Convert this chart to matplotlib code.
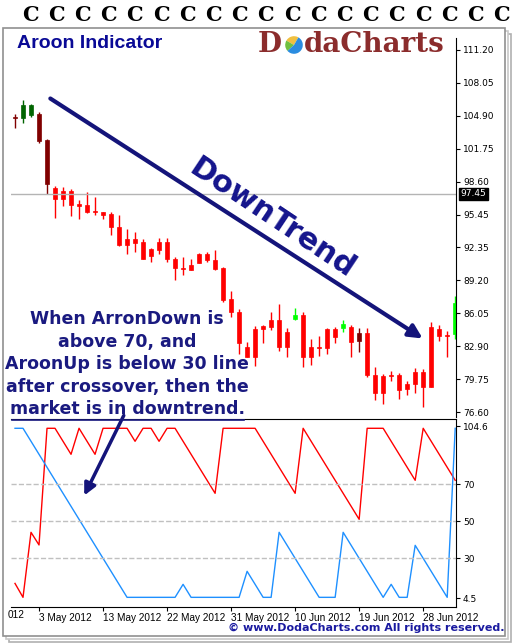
import matplotlib.pyplot as plt
from matplotlib.patches import Rectangle, FancyArrowPatch

# OHLC, one row per session
opens  = [104.71, 104.71, 104.96, 105.06, 102.58, 98.03, 97.71, 97.71, 96.47, 96.38,
          95.77, 95.68, 95.52, 94.28, 93.13, 93.13, 92.85, 92.18, 92.85, 92.85,
          91.19, 90.33, 90.65, 91.70, 91.70, 91.10, 90.36, 87.41, 86.14, 82.80,
          84.55, 84.83, 85.40, 85.40, 84.26, 85.50, 85.88, 82.80, 82.80, 84.55,
          84.55, 84.67, 84.77, 84.13, 84.13, 80.19, 80.06, 80.16, 80.16, 79.30,
          80.41, 80.41, 84.70, 84.55, 84.00, 84.03]
highs  = [105.02, 106.39, 106.01, 105.22, 102.64, 98.19, 98.06, 97.93, 96.85, 97.62,
          97.11, 95.74, 95.68, 95.42, 94.09, 93.77, 93.10, 92.24, 93.23, 93.23,
          91.38, 91.38, 91.19, 91.76, 91.92, 92.08, 90.43, 88.17, 86.42, 83.31,
          84.83, 84.90, 86.14, 86.93, 84.61, 86.52, 86.20, 83.59, 83.88, 84.64,
          84.70, 85.40, 84.93, 84.61, 84.61, 80.89, 80.25, 80.57, 80.32, 79.55,
          80.79, 80.70, 85.18, 84.93, 84.32, 87.68]
lows   = [103.75, 104.23, 104.80, 102.26, 97.39, 95.17, 96.31, 95.36, 95.07, 95.64,
          95.45, 95.07, 93.51, 92.50, 91.67, 91.92, 91.19, 90.97, 91.67, 90.94,
          89.19, 89.70, 90.14, 90.81, 90.97, 90.17, 87.15, 85.72, 82.13, 81.84,
          81.05, 83.18, 84.45, 82.48, 81.84, 85.40, 80.95, 81.14, 82.00, 82.13,
          83.24, 84.29, 81.91, 82.38, 80.00, 77.77, 77.36, 79.62, 77.84, 78.25,
          78.47, 77.14, 78.98, 83.43, 81.91, 83.62]
closes = [104.71, 105.92, 105.92, 102.51, 98.38, 96.92, 96.98, 96.41, 96.31, 95.71,
          95.68, 95.45, 94.24, 92.53, 92.53, 92.78, 91.19, 91.54, 92.11, 91.19,
          90.33, 90.24, 90.21, 90.87, 91.10, 90.30, 87.31, 86.14, 83.18, 81.91,
          81.91, 84.55, 84.77, 82.86, 82.86, 85.88, 81.84, 81.84, 82.70, 82.70,
          83.81, 84.99, 83.34, 83.43, 80.19, 78.47, 78.47, 80.06, 78.73, 78.79,
          79.27, 79.04, 79.04, 83.91, 83.91, 87.02]
# candle colour classes: d = dark red, g = dark green, r = red, l = lime
kinds = "dggddrrrrrrrrrrrrrrrrrrrrrrrrrrrrrrlrrrrrlrdrrrrrrrrrrrl"

aroon_down = [16.5, 9, 44, 37.2, 100, 100, 93, 86, 100, 93, 86, 100, 100, 100, 100, 93,
              100, 100, 93, 100, 100, 93, 86, 79, 72, 65, 100, 100, 100, 100, 100, 93,
              86, 79, 72, 65, 100, 93, 86, 79, 72, 65, 58, 51, 100, 100, 100, 93,
              86, 79, 72, 100, 93, 86, 79, 72]
aroon_up = [100, 100, 93, 86, 79, 72, 65, 58, 51, 44, 37, 30, 23, 16, 9, 9,
            9, 9, 9, 9, 9, 16, 9, 9, 9, 9, 9, 9, 9, 23, 16, 9,
            9, 44, 37, 30, 23, 16, 9, 9, 9, 44, 37, 30, 23, 16, 9, 16,
            9, 9, 37, 30, 23, 16, 9, 100]

date_pos = [3, 11, 19, 27, 35, 43, 51]
date_labels = ['3 May 2012', '13 May 2012', '22 May 2012', '31 May 2012',
               '10 Jun 2012', '19 Jun 2012', '28 Jun 2012']
price_ticks = [111.20, 108.05, 104.90, 101.75, 98.60, 95.45, 92.35, 89.20, 86.05, 82.90, 79.75, 76.60]
last_price = 97.45

colors = {'d': '#800000', 'g': '#006400', 'r': '#ff0000', 'l': '#00ff00'}
navy = '#14148c'
sans = ['Liberation Sans', 'DejaVu Sans']

W, H = 512, 643
fig = plt.figure(figsize=(W / 100, H / 100), dpi=100)

def fx(x):
    return x / W

def fy(y):
    return 1 - y / H

# page frame with shadows
for off, c in [(6, '#b0b0b0'), (3, '#c8c8c8'), (0, '#909090')]:
    fig.patches.append(Rectangle((fx(3 + off), fy(636 + off)), fx(502), 1 - fy(608), transform=fig.transFigure,
                                 facecolor='white', edgecolor=c, lw=1.2, zorder=-20 + (6 - off)))
# spiral rings
for i in range(19):
    fig.text(fx(30 + 26.2 * i), fy(15), 'C', fontsize=15, fontweight='bold', color='black',
             ha='center', va='center', family='DejaVu Serif')

fig.text(fx(17), fy(43), 'Aroon Indicator', fontsize=14, fontweight='bold', color='#0a0a96', va='center',
         family=sans)
fig.text(fx(258), fy(44), 'D', fontsize=20, fontweight='bold', color='#8b2c2c', va='center', family='DejaVu Serif')
fig.text(fx(304), fy(44), 'daCharts', fontsize=20, fontweight='bold', color='#8b2c2c', va='center', family='DejaVu Serif')
pie_ax = fig.add_axes([fx(283), fy(56), fx(22), 22 / H])
pie_ax.pie([25, 20, 55], colors=['#f0c040', '#70c040', '#2a8ce0'], startangle=60)
pie_ax.set_aspect('equal')

ax = fig.add_axes([fx(11), fy(417), fx(445), (417 - 38) / H])
ax2 = fig.add_axes([fx(11), fy(607), fx(445), (607 - 419) / H], sharex=ax)
ax.patch.set_alpha(0)
ax2.patch.set_alpha(0)

for i in range(len(opens)):
    c = colors[kinds[i]]
    ax.vlines(i, lows[i], highs[i], color=c, lw=1)
    lo, hi = min(opens[i], closes[i]), max(opens[i], closes[i])
    ax.add_patch(Rectangle((i - 0.22, lo), 0.44, max(hi - lo, 0.08), facecolor=c, edgecolor=c, lw=0.5))

ax.axhline(last_price, color='#b4b4b4', lw=1)
ax.set_ylim(76.15, 112.31)
ax.set_xlim(-0.5, 55.1)
ax.yaxis.tick_right()
ax.set_yticks(price_ticks)
ax.set_yticklabels([f'{v:.2f}' for v in price_ticks])
ax.tick_params(axis='y', labelsize=6.5, length=3, pad=2)
ax.tick_params(axis='x', bottom=False, labelbottom=False)
for s in ['left', 'top', 'bottom']:
    ax.spines[s].set_visible(False)
ax.text(1.01, last_price, f'{last_price:.2f}', transform=ax.get_yaxis_transform(), fontsize=6.5,
        color='white', va='center', bbox=dict(facecolor='black', edgecolor='black', pad=1))

x = list(range(len(aroon_up)))
ax2.plot(x, aroon_down, color='#ff0000', lw=1)
ax2.plot(x, aroon_up, color='#1e90ff', lw=1)
for g in [70, 50, 30]:
    ax2.axhline(g, color='#c0c0c0', lw=1, ls='--')
ax2.set_ylim(3.8, 105)
ax2.yaxis.tick_right()
ax2.set_yticks([101.2, 70, 50, 30, 8.6])
ax2.set_yticklabels(['104.6', '70', '50', '30', '4.5'])
ax2.tick_params(axis='y', labelsize=6.5, length=3, pad=2)
ax2.set_xticks(date_pos)
ax2.set_xticklabels(date_labels, family=sans, ha='left')
ax2.tick_params(axis='x', labelsize=7.2, length=3, pad=1)
ax2.spines['left'].set_visible(False)
fig.text(fx(24), fy(615), '012', fontsize=7.2, ha='right', va='center', family=sans)

# annotations
fig.patches.append(FancyArrowPatch(
    (fx(48), fy(97)), (fx(425), fy(340)), transform=fig.transFigure, arrowstyle='-|>,head_length=8,head_width=4',
    color='#14147a', lw=3, mutation_scale=1))
fig.text(fx(272), fy(218), 'DownTrend', fontsize=22, fontweight='bold', color=navy, rotation=-33.7,
         ha='center', va='center', rotation_mode='anchor', family='DejaVu Sans')
lines = ['When ArronDown is', 'above 70, and', 'AroonUp is below 30 line',
         'after crossover, then the', 'market is in downtrend.']
for k, t in enumerate(lines):
    fig.text(fx(127), fy(319 + 22.6 * k), t, fontsize=12.5, fontweight='bold', color='#1a1a80',
             ha='center', va='center', family='DejaVu Sans')
fig.add_artist(plt.Line2D([fx(12), fx(244)], [fy(420), fy(420)], color='#1a1a80', lw=1.2))
fig.patches.append(FancyArrowPatch(
    (fx(125), fy(413)), (fx(83), fy(498)), transform=fig.transFigure, arrowstyle='-|>,head_length=7,head_width=3.5',
    color='#14147a', lw=2.5, mutation_scale=1))

fig.text(fx(504), fy(628), '© www.DodaCharts.com All rights reserved.', fontsize=8, fontweight='bold',
         color='#1a1aa0', ha='right', va='center', family='DejaVu Sans')

fig.savefig('out.png', dpi=100)
